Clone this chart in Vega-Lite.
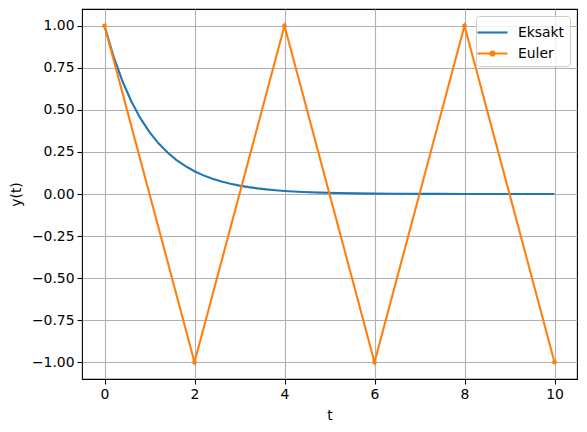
{
  "$schema": "https://vega.github.io/schema/vega-lite/v6.json",
  "width": 495,
  "height": 370,
  "padding": {"left": 82, "top": 9, "right": 10, "bottom": 53},
  "autosize": {"type": "none"},
  "config": {
    "font": "DejaVu Sans",
    "view": {"stroke": "black", "strokeWidth": 1.1},
    "axis": {
      "labelFont": "DejaVu Sans", "labelFontSize": 13.9, "labelColor": "black",
      "titleFont": "DejaVu Sans", "titleFontSize": 13.9, "titleFontWeight": "normal", "titleColor": "black",
      "tickColor": "black", "tickSize": 5, "tickWidth": 1.1,
      "domain": false,
      "gridColor": "#b0b0b0", "gridWidth": 1.1, "gridOpacity": 1,
      "labelPadding": 3
    }
  },
  "data": {"values": [
    {"t": 0, "y": 1.0, "serie": "Eksakt"},
    {"t": 0.2, "y": 0.8187, "serie": "Eksakt"},
    {"t": 0.4, "y": 0.6703, "serie": "Eksakt"},
    {"t": 0.6, "y": 0.5488, "serie": "Eksakt"},
    {"t": 0.8, "y": 0.4493, "serie": "Eksakt"},
    {"t": 1.0, "y": 0.3679, "serie": "Eksakt"},
    {"t": 1.2, "y": 0.3012, "serie": "Eksakt"},
    {"t": 1.4, "y": 0.2466, "serie": "Eksakt"},
    {"t": 1.6, "y": 0.2019, "serie": "Eksakt"},
    {"t": 1.8, "y": 0.1653, "serie": "Eksakt"},
    {"t": 2.0, "y": 0.1353, "serie": "Eksakt"},
    {"t": 2.2, "y": 0.1108, "serie": "Eksakt"},
    {"t": 2.4, "y": 0.0907, "serie": "Eksakt"},
    {"t": 2.6, "y": 0.0743, "serie": "Eksakt"},
    {"t": 2.8, "y": 0.0608, "serie": "Eksakt"},
    {"t": 3.0, "y": 0.0498, "serie": "Eksakt"},
    {"t": 3.2, "y": 0.0408, "serie": "Eksakt"},
    {"t": 3.4, "y": 0.0334, "serie": "Eksakt"},
    {"t": 3.6, "y": 0.0273, "serie": "Eksakt"},
    {"t": 3.8, "y": 0.0224, "serie": "Eksakt"},
    {"t": 4.0, "y": 0.0183, "serie": "Eksakt"},
    {"t": 4.4, "y": 0.0123, "serie": "Eksakt"},
    {"t": 4.8, "y": 0.0082, "serie": "Eksakt"},
    {"t": 5.2, "y": 0.0055, "serie": "Eksakt"},
    {"t": 5.6, "y": 0.0037, "serie": "Eksakt"},
    {"t": 6.0, "y": 0.0025, "serie": "Eksakt"},
    {"t": 6.5, "y": 0.0015, "serie": "Eksakt"},
    {"t": 7.0, "y": 0.0009, "serie": "Eksakt"},
    {"t": 7.5, "y": 0.0006, "serie": "Eksakt"},
    {"t": 8.0, "y": 0.0003, "serie": "Eksakt"},
    {"t": 9.0, "y": 0.0001, "serie": "Eksakt"},
    {"t": 10.0, "y": 0.00005, "serie": "Eksakt"},
    {"t": 0, "y": 1, "serie": "Euler"},
    {"t": 2, "y": -1, "serie": "Euler"},
    {"t": 4, "y": 1, "serie": "Euler"},
    {"t": 6, "y": -1, "serie": "Euler"},
    {"t": 8, "y": 1, "serie": "Euler"},
    {"t": 10, "y": -1, "serie": "Euler"}
  ]},
  "encoding": {
    "x": {"field": "t", "type": "quantitative", "title": "t",
      "scale": {"domain": [-0.5, 10.5], "nice": false, "zero": false},
      "axis": {"values": [0, 2, 4, 6, 8, 10], "titlePadding": 8}},
    "y": {"field": "y", "type": "quantitative", "title": "y(t)",
      "scale": {"domain": [-1.1, 1.1], "nice": false, "zero": false},
      "axis": {"values": [-1, -0.75, -0.5, -0.25, 0, 0.25, 0.5, 0.75, 1], "format": ".2f", "titlePadding": 8}},
    "color": {"field": "serie", "type": "nominal",
      "scale": {"domain": ["Eksakt", "Euler"], "range": ["#1f77b4", "#ff7f0e"]},
      "legend": {
        "title": null, "orient": "top-right", "offset": 7,
        "labelFont": "DejaVu Sans", "labelFontSize": 13.9, "labelColor": "black",
        "symbolSize": 400, "symbolStrokeWidth": 2.1, "labelOffset": 14, "rowPadding": 2,
        "padding": 5, "strokeColor": "#cccccc", "fillColor": "rgba(255,255,255,0.8)", "cornerRadius": 3,
        "encode": {"symbols": {"update": {
          "shape": {"signal": "datum.value === 'Euler' ? 'M-1.5,0H1.5M-0.2,0A0.2,0.2 0 1,1 0.2,0A0.2,0.2 0 1,1 -0.2,0Z' : 'M-1.5,0H1.5'"},
          "fill": {"signal": "datum.value === 'Euler' ? '#ff7f0e' : 'transparent'"},
          "strokeWidth": {"value": 2.1}
        }}}
      }}
  },
  "layer": [
    {"mark": {"type": "line", "strokeWidth": 2.1, "clip": true}},
    {"transform": [{"filter": "datum.serie === 'Euler'"}],
     "mark": {"type": "point", "filled": true, "size": 22, "opacity": 1}}
  ]
}
